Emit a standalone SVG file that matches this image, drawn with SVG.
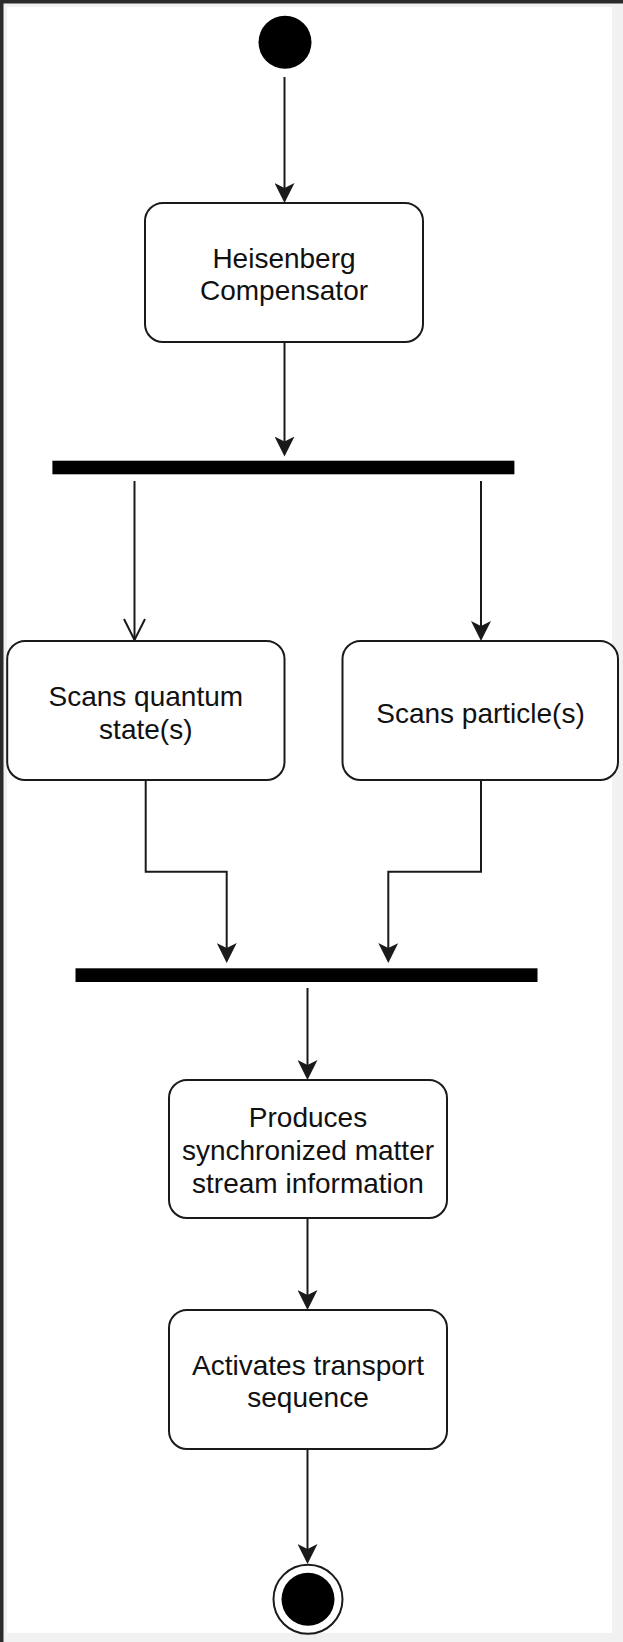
<svg xmlns="http://www.w3.org/2000/svg" width="623" height="1642" viewBox="0 0 623 1642">
<style>
.box{fill:#fff;stroke:#1a1a1a;stroke-width:2}
.bar{fill:#000}
.ln{fill:none;stroke:#1a1a1a;stroke-width:2}
.t{font-family:"Liberation Sans",Arial,Helvetica,sans-serif;font-size:28px;fill:#111;text-anchor:middle}
</style>
<defs>
<marker id="arr" viewBox="0 0 20 20" refX="15" refY="10" markerWidth="20" markerHeight="20" markerUnits="userSpaceOnUse" orient="auto">
<path d="M0,0 L20,10 L0,20 L5,10 Z" fill="#1a1a1a"/>
</marker>
<marker id="open" viewBox="0 0 24 24" refX="22" refY="12" markerWidth="24" markerHeight="24" markerUnits="userSpaceOnUse" orient="auto">
<path d="M1,1.5 L22,12 L1,22.5" fill="none" stroke="#1a1a1a" stroke-width="2"/>
</marker>
</defs>
<g id="frame">
<rect x="0" y="0" width="623" height="1642" fill="#f1f1f1"/>
<rect x="7" y="7" width="605" height="1626" fill="#fff"/>
<rect x="0" y="0" width="623" height="3.5" fill="#2b2b2b"/>
<rect x="0" y="0" width="3.5" height="1642" fill="#2b2b2b"/>
</g>
<g id="connectors">
<line class="ln" x1="284.5" y1="77" x2="284.5" y2="198" marker-end="url(#arr)"/>
<line class="ln" x1="284.5" y1="342" x2="284.5" y2="451.5" marker-end="url(#arr)"/>
<line class="ln" x1="134.5" y1="481" x2="134.5" y2="640" marker-end="url(#open)"/>
<line class="ln" x1="481" y1="481" x2="481" y2="636" marker-end="url(#arr)"/>
<polyline class="ln" points="145.7,780 145.7,871.7 226.7,871.7 226.7,958" marker-end="url(#arr)"/>
<polyline class="ln" points="481,780 481,871.7 388.3,871.7 388.3,958" marker-end="url(#arr)"/>
<line class="ln" x1="307.5" y1="988" x2="307.5" y2="1075" marker-end="url(#arr)"/>
<line class="ln" x1="307.5" y1="1218" x2="307.5" y2="1305" marker-end="url(#arr)"/>
<line class="ln" x1="307.5" y1="1449" x2="307.5" y2="1559" marker-end="url(#arr)"/>
</g>
<g id="start">
<circle cx="285" cy="42.3" r="26.5" fill="#000"/>
</g>
<g id="heisenberg">
<rect class="box" x="145" y="203" width="278" height="139" rx="18" ry="18"/>
<text class="t" x="284" y="268">Heisenberg</text>
<text class="t" x="284" y="300">Compensator</text>
</g>
<g id="fork">
<rect class="bar" x="52.4" y="460.7" width="462" height="13.6"/>
</g>
<g id="scanQuantum">
<rect class="box" x="7.2" y="641" width="277.3" height="139" rx="18" ry="18"/>
<text class="t" x="145.8" y="706">Scans quantum</text>
<text class="t" x="145.8" y="738.5">state(s)</text>
</g>
<g id="scanParticle">
<rect class="box" x="342.5" y="641" width="275.5" height="139" rx="18" ry="18"/>
<text class="t" x="480.5" y="722.5">Scans particle(s)</text>
</g>
<g id="join">
<rect class="bar" x="75.5" y="968.3" width="462" height="13.7"/>
</g>
<g id="produces">
<rect class="box" x="169" y="1080" width="278" height="138" rx="18" ry="18"/>
<text class="t" x="308" y="1127">Produces</text>
<text class="t" x="308" y="1160">synchronized matter</text>
<text class="t" x="308" y="1192.5">stream information</text>
</g>
<g id="activates">
<rect class="box" x="169" y="1310" width="278" height="139" rx="18" ry="18"/>
<text class="t" x="308" y="1374.5">Activates transport</text>
<text class="t" x="308" y="1406.5">sequence</text>
</g>
<g id="end">
<circle cx="308" cy="1599.3" r="34.5" fill="#fff" stroke="#1a1a1a" stroke-width="2"/>
<circle cx="308" cy="1599.3" r="26.5" fill="#000"/>
</g>
</svg>
